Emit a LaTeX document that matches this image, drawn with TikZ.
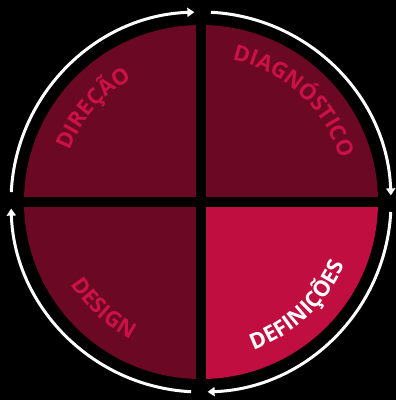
\documentclass[tikz,border=0pt]{standalone}
\usepackage{fontspec}
\setmainfont{Open Sans}
\usetikzlibrary{arrows.meta,decorations.text}

\definecolor{escuro}{RGB}{107,9,37}
\definecolor{vivo}{RGB}{192,14,64}
\definecolor{letra}{RGB}{204,16,72}

\begin{document}
\begin{tikzpicture}[x=1pt, y=1pt,
    seta/.style={white, line width=3pt, -{Triangle[length=7pt,width=9pt]}},
    rotulo/.style={decorate, decoration={text along path, text align=center,
        text color=#1, text={\textoarco}}}]
    \fill[black] (-201,-198) rectangle (195,202);
    \useasboundingbox (-201,-198) rectangle (195,202);

    \fill[escuro] (0,0) -- (-177,0) arc (180:90:177) -- cycle;
    \fill[escuro] (0,0) -- (0,177) arc (90:0:177) -- cycle;
    \fill[vivo] (0,0) -- (177,0) arc (0:-90:177) -- cycle;
    \fill[escuro] (0,0) -- (0,-177) arc (-90:-180:177) -- cycle;
    \draw[black, line width=10pt] (-180,0) -- (180,0);
    \draw[black, line width=10pt] (0,-180) -- (0,180);

    \foreach \a in {180,90,0,-90}
        \draw[seta] (\a-3:190) arc (\a-3:\a-88:190);

    \bfseries\fontsize{22}{26}\selectfont\addfontfeatures{LetterSpace=6}
    \def\textoarco{DIREÇÃO}
    \path[rotulo=letra] (182:141) arc (182:96:141);
    \def\textoarco{DIAGNÓSTICO}
    \path[rotulo=letra] (100:146) arc (100:-5:146);
    \def\textoarco{DEFINIÇÕES}
    \path[rotulo=white] (-100:157) arc (-100:6:157);
    \def\textoarco{DESIGN}
    \path[rotulo=letra] (180:154) arc (180:275:154);
\end{tikzpicture}
\end{document}
